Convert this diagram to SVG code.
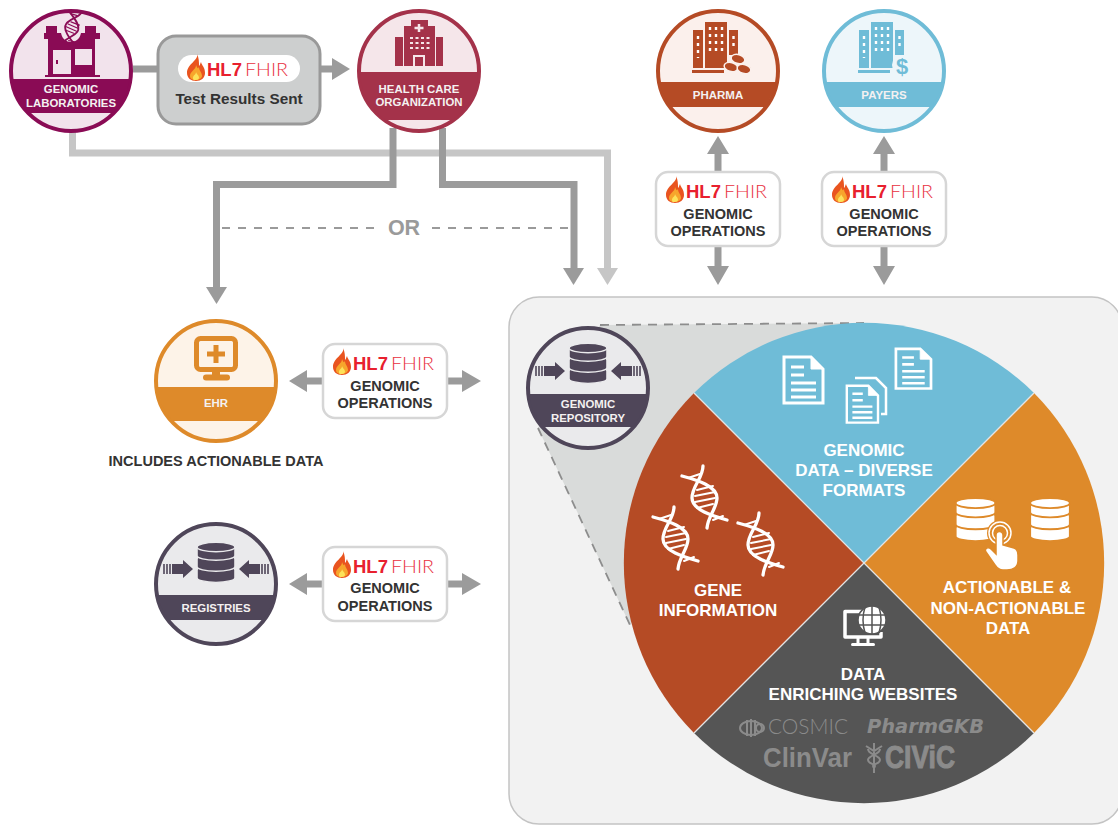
<svg xmlns="http://www.w3.org/2000/svg" width="1118" height="825" viewBox="0 0 1118 825">
<style>
text{font-family:"Liberation Sans",Arial,sans-serif;font-weight:700;text-anchor:middle}
.w{fill:#f4f1f1}
.s{font-size:11.4px}
.op{font-size:14.5px;fill:#333}
.big{font-size:17px;fill:#fff}
.hl{font-size:18.5px;fill:#e8202e;text-anchor:start}
.fh{font-family:Lato,"Liberation Sans",sans-serif;font-size:18.5px;font-weight:300;fill:#e8303e;text-anchor:start}
.conn{fill:none;stroke:#9b9b9b;stroke-width:7}
.light{stroke:#c6c6c6}
.ah{fill:#9b9b9b}
.box{fill:#fff;stroke:#d6d6d6;stroke-width:2.5}
.logo{fill:#8b8b8b}
</style>
<defs>
<clipPath id="cc"><circle r="59"/></clipPath>
<g id="flame">
<path d="M-42-22c2 6-10 10-10 19 0 5 4 8 9 8s9-3 9-8c0-6-3-7-4-11-1 2-1 3-2 4 0-4 0-8-2-12z" fill="#e9541f"/>
<path d="M-43-11c0 5-6 6-6 11 0 3 3 4 6 4s6-2 6-4c0-4-3-5-3-9-1 1-1 3-3-2z" fill="#f7a52c"/>
<path d="M-43-4c0 3-3 3-3 6s2 2 3 2 3-1 3-2c0-3-2-3-3-6z" fill="#fde25a"/>
</g>
<g id="dna" fill="none" stroke-width="3.300" stroke-linecap="round">
<path d="M-23-22C-8-18 12-12 12 0 12 10 3 18 2 30"/>
<path d="M-2-32C-2-20-13-12-13 0-13 12 8 18 22 22"/>
<path stroke-width="2" d="M-17-20-5-24M-8-8 8-12M-10-2 10-6M-10 4 10 0M-8 10 8 6M8 22 18 18"/>
</g>
<g id="db">
<path d="M-19 20V29a19 5.500 0 0 0 38 0V20a19 5.500 0 0 0-38 0z"/>
<path d="M-19 7V16a19 5.500 0 0 0 38 0V7a19 5.500 0 0 0-38 0z"/>
<path d="M-19-7V3a19 5.500 0 0 0 38 0V-7a19 5.500 0 0 0-38 0z"/>
<ellipse cy="-7" rx="19" ry="5.500"/>
</g>
<g id="ingest">
<path d="M-44-22h11v-4l10 9-10 9v-4h-11zM44-22h-11v-4l-10 9 10 9v-4h11z"/>
<path d="M-46-22v10M-49-22v10M-52-22v10M46-22v10M49-22v10M52-22v10" stroke="#4f4659" stroke-width="1.600" fill="none"/>
</g>
<g id="tower">
<path d="M-25-41H-15V-3H-25zM-13-49H9V-3H-13zM11-41H20V-16H11zM-26-1H6V2H-26z"/>
<path stroke="#fff" stroke-width="2.400" stroke-dasharray="3 4" fill="none" d="M-20-35v22M-8-44v28M-2-44v28M4-44v28M15.500-35v14"/>
</g>
<g id="doc"><path d="M1 1H28L40 13V47H1z" fill="none" stroke="#fff" stroke-width="3"/><path d="M28 1V13H40" fill="#fff" stroke="#fff"/><path d="M8 11H21M8 19H21M8 27H33M8 34H33M8 41H33" stroke="#fff" stroke-width="3"/></g>
</defs>

<rect id="panel" x="509" y="297" width="613" height="527" rx="30" fill="#f2f2f2" stroke="#c4c4c4" stroke-width="1.500"/>
<path d="M600 325 864 323 630 625 538 428z" fill="#d9dbda"/>

<g id="connectors">
<path class="conn light" d="M72.500 130V153H607.500V270"/>
<path class="ah" style="fill:#c6c6c6" d="M597 268h21l-10.500 17z"/>
<path class="conn" d="M393 128V184.500H216.500V288"/>
<path class="ah" d="M206 287h21l-10.500 17z"/>
<path class="conn" d="M442.500 128V184.500H574V270"/>
<path class="ah" d="M563 268h21l-10.500 17z"/>
<path d="M222 228H375M432 228H570" fill="none" stroke="#9a9a9a" stroke-width="1.800" stroke-dasharray="8 8"/>
<path d="M600 325 864 323M538 428 630 625" fill="none" stroke="#8d8d8d" stroke-width="1.800" stroke-dasharray="9 7"/>
<path class="conn" d="M133 69H178M301 69H334"/>
<path class="ah" d="M332 58l18 11-18 11z"/>
<path class="conn" d="M718 154V173M718 246V268M884 154V173M884 246V268"/>
<path class="ah" d="M707 154h22l-11-18zM873 154h22l-11-18zM707 266h22l-11 19zM873 266h22l-11 19z"/>
<path class="conn" d="M306 381H324M446 381H464M306 584H324M446 584H464"/>
<path class="ah" d="M307 370v22l-18-11zM307 573v22l-18-11zM462 370v22l19-11zM462 573v22l19-11z"/>
</g>
<text x="404" y="235" style="font-size:21.500px;fill:#9a9a9a">OR</text>

<g id="genomic-laboratories" transform="translate(71 71)">
<circle r="60" fill="#f2e3ec" stroke="#8a0b55" stroke-width="4"/>
<rect x="-62" y="8" width="124" height="34" fill="#8a0b55" clip-path="url(#cc)"/>
<path d="M-25-45H-14V-38H-10C-8-26 8-26 10-38H14V-45H25V-38H29V-32H24V4H29V6H-26V4H-23V-32H-27V-38H-25z" fill="#8a0b55"/>
<path d="M-18-21H0V3H-18zM4-22H21V-6H4z" fill="#f2e3ec"/>
<path d="M-14-11v4" stroke="#8a0b55" stroke-width="2"/>
<g transform="translate(1 -43) rotate(35) scale(.55)"><use href="#dna" stroke="#8a0b55"/></g>
<text class="s w" y="22">GENOMIC</text>
<text class="s w" y="36">LABORATORIES</text>
</g>
<g id="test-results-sent">
<rect x="158" y="36" width="162" height="88" rx="18" fill="#cdcfcf" stroke="#999" stroke-width="3"/>
<rect x="178" y="55" width="122" height="27" rx="13.500" fill="#fff"/>
<use href="#flame" x="239" y="76"/>
<text class="hl" x="207" y="76">HL7</text>
<text class="fh" x="245" y="76" textLength="43" lengthAdjust="spacingAndGlyphs">FHIR</text>
<text x="239" y="104" style="font-size:15.300px;fill:#333">Test Results Sent</text>
</g>
<g id="health-care-organization" transform="translate(419 71)">
<circle r="60" fill="#f5e6ea" stroke="#a4324a" stroke-width="4"/>
<rect x="-62" y="1" width="124" height="48" fill="#a4324a" clip-path="url(#cc)"/>
<path d="M-24-34H-16V-5H-24zM17-34H24V-5H17zM-15-45H-8V-51H9V-45H16V-5H-15z" fill="#a4324a"/>
<path d="M-4.500-43H4.500M0-47V-39" stroke="#f5e6ea" stroke-width="2.500"/>
<path d="M-9-33H11M-9-28H11M-9-23H11" stroke="#f5e6ea" stroke-width="2" stroke-dasharray="3 2.500"/>
<path d="M-5-5V-15H5V-5" fill="none" stroke="#f5e6ea" stroke-width="2"/>
<text class="s w" y="21.500">HEALTH CARE</text>
<text class="s w" y="35">ORGANIZATION</text>
</g>
<g id="pharma" transform="translate(718 71)">
<circle r="60" fill="#fbf0ec" stroke="#b54b25" stroke-width="4"/>
<rect x="-62" y="11" width="124" height="25" fill="#b54b25" clip-path="url(#cc)"/>
<use href="#tower" fill="#b54b25"/>
<g fill="#b54b25" stroke="#fbf0ec" stroke-width="1.500">
<ellipse cx="20" cy="-12" rx="7" ry="4.500" transform="rotate(15 20 -12)"/>
<ellipse cx="13" cy="-4" rx="7" ry="4.500" transform="rotate(15 13 -4)"/>
<ellipse cx="26" cy="-2" rx="7" ry="4.500" transform="rotate(15 26 -2)"/>
</g>
<text class="s w" y="28" style="font-size:11.500px">PHARMA</text>
</g>
<g id="payers" transform="translate(884 71)">
<circle r="60" fill="#edf6fa" stroke="#6fbcd7" stroke-width="4"/>
<rect x="-62" y="11" width="124" height="25" fill="#6fbcd7" clip-path="url(#cc)"/>
<use href="#tower" fill="#6fbcd7"/>
<circle cx="18" cy="-6" r="10" fill="#edf6fa"/>
<text x="18" y="3" style="font-size:22px;fill:#6fbcd7">$</text>
<text class="s w" y="28" style="font-size:11.500px">PAYERS</text>
</g>

<g id="ops-pharma">
<rect class="box" x="656" y="172" width="124" height="74" rx="12"/>
<use href="#flame" x="718" y="198"/>
<text class="hl" x="686" y="198">HL7</text>
<text class="fh" x="724" y="198" textLength="43" lengthAdjust="spacingAndGlyphs">FHIR</text>
<text class="op" x="718" y="218.500">GENOMIC</text>
<text class="op" x="718" y="236">OPERATIONS</text>
</g>
<g id="ops-payers">
<rect class="box" x="822" y="172" width="124" height="74" rx="12"/>
<use href="#flame" x="884" y="198"/>
<text class="hl" x="852" y="198">HL7</text>
<text class="fh" x="890" y="198" textLength="43" lengthAdjust="spacingAndGlyphs">FHIR</text>
<text class="op" x="884" y="218.500">GENOMIC</text>
<text class="op" x="884" y="236">OPERATIONS</text>
</g>
<g id="ops-ehr">
<rect class="box" x="323" y="344" width="124" height="74" rx="12"/>
<use href="#flame" x="385" y="370"/>
<text class="hl" x="353" y="370">HL7</text>
<text class="fh" x="391" y="370" textLength="43" lengthAdjust="spacingAndGlyphs">FHIR</text>
<text class="op" x="385" y="390.500">GENOMIC</text>
<text class="op" x="385" y="408">OPERATIONS</text>
</g>
<g id="ops-registries">
<rect class="box" x="323" y="547" width="124" height="74" rx="12"/>
<use href="#flame" x="385" y="573"/>
<text class="hl" x="353" y="573">HL7</text>
<text class="fh" x="391" y="573" textLength="43" lengthAdjust="spacingAndGlyphs">FHIR</text>
<text class="op" x="385" y="593">GENOMIC</text>
<text class="op" x="385" y="610.500">OPERATIONS</text>
</g>

<g id="ehr" transform="translate(216 381)">
<circle r="60" fill="#fdf3e8" stroke="#de8a2a" stroke-width="4"/>
<rect x="-62" y="6" width="124" height="34" fill="#de8a2a" clip-path="url(#cc)"/>
<rect x="-19.500" y="-42.500" width="39" height="31" rx="4" fill="none" stroke="#de8a2a" stroke-width="5"/>
<path d="M-9-27H9M0-36V-18" stroke="#de8a2a" stroke-width="5"/>
<path d="M-4-10H4V-6H-4z" fill="#de8a2a"/>
<rect x="-13" y="-6.500" width="27" height="6" rx="3" fill="#de8a2a"/>
<text class="s w" y="26">EHR</text>
</g>
<text x="216" y="466" style="font-size:14.500px;fill:#333">INCLUDES ACTIONABLE DATA</text>

<g id="registries" transform="translate(216 584)">
<circle r="60" fill="#eaeaec" stroke="#4f4659" stroke-width="4"/>
<rect x="-62" y="11" width="124" height="25" fill="#4f4659" clip-path="url(#cc)"/>
<use href="#db" transform="translate(0 -31) scale(1 .85)" fill="#4f4659" stroke="#eaeaec" stroke-width="1.600"/>
<use href="#ingest" fill="#4f4659" transform="translate(0 2)"/>
<text class="s w" y="28">REGISTRIES</text>
</g>

<g id="data-pie">
<path id="seg-genomic" d="M864 563 694 393A241 241 0 0 1 1034 393z" fill="#6fbcd7"/>
<path id="seg-actionable" d="M864 563 1034 393A241 241 0 0 1 1034 733z" fill="#de8a2a"/>
<path id="seg-enriching" d="M864 563 1034 733A241 241 0 0 1 694 733z" fill="#555"/>
<path id="seg-gene" d="M864 563 694 733A241 241 0 0 1 694 393z" fill="#b54b25"/>
<path d="M694 393 1034 733M1034 393 694 733" stroke="#e4e4e4" stroke-width="1.300"/>

<use href="#doc" x="783" y="356"/>
<use href="#doc" transform="translate(895 348) scale(.9 .86)"/>
<path d="M855 378H876L886 388V414H881" fill="none" stroke="#fff" stroke-width="2.500"/>
<g transform="translate(846 385) scale(.8)"><path d="M1 1H28L40 13V47H1z" fill="#6fbcd7"/></g>
<use href="#doc" transform="translate(846 385) scale(.8)"/>
<text class="big" x="864" y="456">GENOMIC</text>
<text class="big" x="864" y="476">DATA – DIVERSE</text>
<text class="big" x="864" y="496">FORMATS</text>

<use href="#db" transform="translate(975.500 509.500) scale(1.050 .92)" fill="#fff" stroke="#de8a2a" stroke-width="2"/>
<use href="#db" transform="translate(1050 509.500) scale(1.050 .92)" fill="#fff" stroke="#de8a2a" stroke-width="2"/>
<circle cx="1000" cy="533" r="13" fill="#de8a2a"/>
<circle cx="1000" cy="533" r="11" fill="none" stroke="#fff" stroke-width="1.500"/>
<circle cx="1000" cy="533" r="7.500" fill="none" stroke="#fff" stroke-width="1.500"/>
<path d="M996 535a3.500 3.500 0 0 1 7 0v10l11 3c3 1 4 3 4 7v6c0 6-5 9-11 9h-4c-4 0-6-2-8-5l-9-13c-2-3 2-6 5-3l5 5z" fill="#fff" stroke="#de8a2a" stroke-width="1.500"/>
<text class="big" x="1007" y="593">ACTIONABLE &amp;</text>
<text class="big" x="1008" y="614">NON-ACTIONABLE</text>
<text class="big" x="1008" y="634">DATA</text>

<use href="#dna" x="705" y="498" stroke="#fff"/>
<use href="#dna" x="676" y="539" stroke="#fff"/>
<use href="#dna" x="761" y="545" stroke="#fff"/>
<text class="big" x="718" y="596">GENE</text>
<text class="big" x="718" y="616">INFORMATION</text>

<path d="M866 611.500H845V637H881V632" fill="none" stroke="#fff" stroke-width="3.500" stroke-linejoin="round"/>
<path d="M858 637V644M868 637V644" stroke="#fff" stroke-width="3"/>
<rect x="851" y="643" width="24" height="3" rx="1.500" fill="#fff"/>
<circle cx="872" cy="620" r="14" fill="#fff" stroke="#555" stroke-width="1.500"/>
<path d="M858 615H886M858 625H886M872 606V634M865 607Q861 620 865 633M879 607Q883 620 879 633" fill="none" stroke="#555" stroke-width="1.500"/>
<text class="big" x="863" y="680">DATA</text>
<text class="big" x="863" y="700">ENRICHING WEBSITES</text>
<g fill="none" stroke="#8b8b8b" stroke-width="2">
<ellipse cx="751" cy="728" rx="11" ry="7"/>
<path d="M747 720V736M751 719V737M755 720V736"/>
<circle cx="760" cy="728" r="4"/>
<path d="M874 743V773M868 749C868 755 880 755 880 760S870 763 874 768M880 749C880 755 868 755 868 760S878 763 874 768M866 746 874 751 882 746"/>
</g>
<text class="logo" x="768" y="734" style="font-family:Lato,'Liberation Sans',sans-serif;font-size:21px;font-weight:300;text-anchor:start" textLength="80" lengthAdjust="spacingAndGlyphs">COSMIC</text>
<text class="logo" x="867" y="733" style="font-family:'DejaVu Sans',sans-serif;font-size:19px;font-style:italic;text-anchor:start" textLength="117" lengthAdjust="spacingAndGlyphs">PharmGKB</text>
<text class="logo" x="763" y="767" style="font-size:27px;text-anchor:start" textLength="89" lengthAdjust="spacingAndGlyphs">ClinVar</text>
<text class="logo" x="885" y="768" style="font-size:31px;text-anchor:start;stroke:#8b8b8b;stroke-width:1" textLength="70" lengthAdjust="spacingAndGlyphs">CIViC</text>
</g>

<g id="genomic-repository" transform="translate(588 388)">
<circle r="60" fill="#eaeaec" stroke="#4f4659" stroke-width="4"/>
<rect x="-62" y="6" width="124" height="33" fill="#4f4659" clip-path="url(#cc)"/>
<use href="#db" transform="translate(0 -34) scale(1 .85)" fill="#4f4659" stroke="#eaeaec" stroke-width="1.600"/>
<use href="#ingest" fill="#4f4659"/>
<text class="s w" y="20">GENOMIC</text>
<text class="s w" y="34">REPOSITORY</text>
</g>
</svg>
